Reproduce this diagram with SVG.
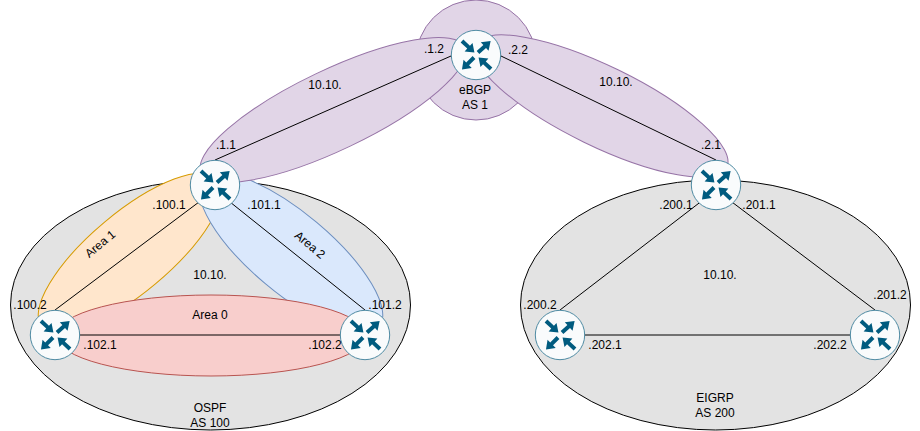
<svg xmlns="http://www.w3.org/2000/svg" width="920" height="431" viewBox="0 0 920 431">
<style>
text{font-family:"Liberation Sans",Arial,sans-serif;font-size:12px;fill:#000;text-anchor:middle}
.as{fill:#e3e3e3;stroke:#000}
.pu{fill:#e1d5e7;stroke:#9673a6}
.or{fill:#ffe6cc;stroke:#d79b00}
.bl{fill:#dae8fc;stroke:#6c8ebf}
.re{fill:#f8cecc;stroke:#b85450}
line{stroke:#000;stroke-width:1}
.rc{fill:#f9fbfc;stroke:#4f8ba3;stroke-width:1}
.ar{fill:#005b7f}
</style>
<defs>
<path id="a" d="M0-2H9V-5.800L17-0 9 5.800V2H0Z"/>
<g id="router">
<circle class="rc" r="24.700"/>
<g class="ar">
<use href="#a" transform="translate(-14,-14) rotate(43)"/>
<use href="#a" transform="translate(2,-2.500) rotate(-42)"/>
<use href="#a" transform="translate(-2,2.500) rotate(135)"/>
<use href="#a" transform="translate(15,14) rotate(-137)"/>
</g>
</g>
</defs>
<g id="areas">
<ellipse class="as" cx="210.500" cy="305" rx="200" ry="125"/>
<ellipse class="as" cx="715.500" cy="305" rx="195" ry="125"/>
<ellipse class="or" transform="rotate(-40 130 253)" cx="130" cy="253" rx="115" ry="40"/>
<ellipse class="bl" transform="rotate(40 291 253)" cx="291" cy="253" rx="115" ry="40"/>
<ellipse class="re" cx="211" cy="335.500" rx="155" ry="40.500"/>
<circle class="pu" cx="476" cy="60" r="60"/>
<ellipse class="pu" transform="rotate(-25.500 333 110)" cx="333" cy="110" rx="146" ry="40"/>
<ellipse class="pu" transform="rotate(26 601 106)" cx="601" cy="106" rx="140" ry="40"/>
</g>
<g id="connectors">
<line x1="451" y1="56" x2="215" y2="160"/>
<line x1="501" y1="56" x2="716" y2="160"/>
<line x1="215" y1="190" x2="55" y2="310"/>
<line x1="215" y1="190" x2="365" y2="310"/>
<line x1="55" y1="335" x2="365" y2="335"/>
<line x1="716" y1="190" x2="560" y2="310"/>
<line x1="716" y1="190" x2="875" y2="310"/>
<line x1="560" y1="335" x2="875" y2="335"/>
</g>
<g id="router-top"><use href="#router" x="476" y="55"/></g>
<g id="router-ospf-top"><use href="#router" x="215" y="185"/></g>
<g id="router-eigrp-top"><use href="#router" x="716" y="185"/></g>
<g id="router-ospf-left"><use href="#router" x="55" y="335"/></g>
<g id="router-ospf-right"><use href="#router" x="365" y="335"/></g>
<g id="router-eigrp-left"><use href="#router" x="560" y="335"/></g>
<g id="router-eigrp-right"><use href="#router" x="875" y="335"/></g>
<g id="labels">
<text x="434" y="53">.1.2</text>
<text x="518" y="54">.2.2</text>
<text x="325" y="89">10.10.</text>
<text x="616" y="86">10.10.</text>
<text x="226" y="149">.1.1</text>
<text x="711" y="149">.2.1</text>
<text x="475" y="94">eBGP</text>
<text x="475" y="109">AS 1</text>
<text x="169" y="209">.100.1</text>
<text x="30" y="309">.100.2</text>
<text x="264" y="209">.101.1</text>
<text x="385" y="309">.101.2</text>
<text x="100" y="349">.102.1</text>
<text x="325" y="349">.102.2</text>
<text x="210" y="279">10.10.</text>
<text x="210" y="319">Area 0</text>
<text transform="translate(102.700,247) rotate(-40)">Area 1</text>
<text transform="translate(307.400,248) rotate(40)">Area 2</text>
<text x="210" y="412">OSPF</text>
<text x="210" y="427">AS 100</text>
<text x="676" y="209">.200.1</text>
<text x="759" y="209">.201.1</text>
<text x="540" y="309">.200.2</text>
<text x="890" y="299">.201.2</text>
<text x="605" y="349">.202.1</text>
<text x="830" y="349">.202.2</text>
<text x="720" y="279">10.10.</text>
<text x="715" y="402">EIGRP</text>
<text x="715" y="417">AS 200</text>
</g>
</svg>
